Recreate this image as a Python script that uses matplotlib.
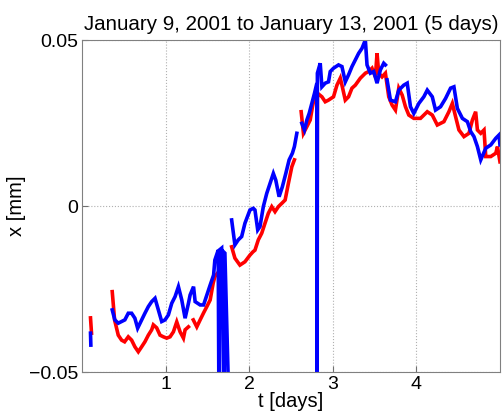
import numpy as np
import matplotlib
matplotlib.use("Agg")
import matplotlib.pyplot as plt

plt.rcParams['font.family'] = ['Liberation Sans', 'DejaVu Sans']

nan = np.nan

# red trace (t in days, x in mm); nan = gap in record
t_red = [0.100, 0.112, nan,
         0.360, 0.388, 0.432, 0.472, 0.508, 0.552, 0.592, 0.631, 0.672, 0.712,
         0.751, 0.792, 0.832, 0.852, 0.892, 0.932, 0.972, 1.012, 1.052, 1.092,
         1.132, 1.172, 1.212, 1.232, 1.272, nan,
         1.330, 1.372, 1.412, 1.453, 1.492, 1.532, 1.568, 1.588, 1.648, 1.669, nan,
         1.789, 1.828, 1.888, 1.948, 2.008, 2.044, 2.068, 2.108, 2.149, 2.188,
         2.228, 2.269, 2.308, 2.348, 2.389, 2.429, 2.468, 2.509, 2.540, nan,
         2.621, 2.648, 2.689, 2.729, 2.756, 2.780, 2.809, 2.812, 2.815, 2.869,
         2.909, 2.948, 3.008, 3.049, 3.089, 3.109, 3.149, 3.188, 3.229, 3.269,
         3.329, 3.389, 3.429, 3.469, 3.509, 3.529, 3.549, 3.589, 3.629, 3.669,
         3.709, 3.749, 3.789, 3.830, 3.869, 3.909, 3.969, 4.049, 4.130, 4.190,
         4.250, 4.329, 4.389, 4.430, 4.469, 4.509, 4.569, 4.629, 4.670, 4.709,
         4.730, 4.770, 4.809, 4.830, 4.890, 4.950, 4.970, 5.000]
x_red = [-0.0337, -0.0383, nan,
         -0.0258, -0.0343, -0.0389, -0.0404, -0.0409, -0.0394, -0.0404, -0.0424,
         -0.0439, -0.0424, -0.0409, -0.0389, -0.0373, -0.0358, -0.0367, -0.0389,
         -0.0394, -0.0398, -0.0394, -0.0379, -0.0349, -0.0379, -0.0398, -0.0373,
         -0.0364, nan,
         -0.0343, -0.0364, -0.0343, -0.0322, -0.0303, -0.0283, -0.0232, -0.0213,
         -0.0193, -0.0187, nan,
         -0.0123, -0.0157, -0.0178, -0.0168, -0.0148, -0.0138, -0.0133, -0.0102,
         -0.0082, -0.0052, -0.0022, -0.0002, -0.0017, -0.0002, 0.0008, 0.0018,
         0.0068, 0.0118, 0.0139, nan,
         0.0284, 0.0219, 0.0239, 0.0259, 0.0299, 0.0329, 0.0355, -0.0102, 0.0340,
         0.0329, 0.0314, 0.0319, 0.0329, 0.0364, 0.0385, 0.0364, 0.0319, 0.0329,
         0.0355, 0.0364, 0.0385, 0.0400, 0.0405, 0.0415, 0.0389, 0.0460, 0.0400,
         0.0389, 0.0400, 0.0329, 0.0304, 0.0289, 0.0355, 0.0334, 0.0299, 0.0274,
         0.0264, 0.0264, 0.0284, 0.0274, 0.0244, 0.0254, 0.0284, 0.0309, 0.0269,
         0.0229, 0.0209, 0.0219, 0.0259, 0.0284, 0.0229, 0.0219, 0.0229, 0.0149,
         0.0149, 0.0159, 0.0179, 0.0133]

# blue trace; the drop-outs run down past the bottom of the axes
t_blue = [0.100, 0.104, nan,
          0.360, 0.391, 0.432, 0.472, 0.511, 0.552, 0.592, 0.631, 0.664, 0.712,
          0.751, 0.792, 0.832, 0.872, 0.912, 0.952, 0.992, 1.032, 1.072, 1.112,
          1.152, 1.192, 1.232, 1.272, 1.292, 1.333, 1.352, 1.412, 1.453, 1.492,
          1.532, 1.573, 1.588, 1.628, 1.637, 1.640, 1.669, 1.697, 1.700, 1.708,
          1.756, 1.758, nan,
          1.789, 1.828, 1.868, 1.909, 1.948, 2.008, 2.048, 2.068, 2.101, 2.128,
          2.168, 2.209, 2.248, 2.288, 2.317, 2.357, 2.396, 2.437, 2.477, 2.516,
          2.540, 2.569, nan,
          2.629, 2.660, 2.689, 2.717, 2.749, 2.780, 2.809, 2.812, 2.815, 2.849,
          2.869, 2.909, 2.948, 2.969, 3.008, 3.068, 3.109, 3.149, 3.188, 3.229,
          3.269, 3.309, 3.349, 3.389, 3.409, 3.449, 3.489, 3.529, 3.569, 3.609,
          3.629, nan,
          3.649, 3.689, 3.749, 3.789, 3.849, 3.890, 3.929, 3.969, 4.029, 4.089,
          4.130, 4.190, 4.229, 4.289, 4.349, 4.409, 4.449, 4.490, 4.550, 4.610,
          4.650, 4.689, 4.730, 4.770, 4.830, 4.890, 4.950, 4.989, 5.000]
x_blue = [-0.0383, -0.0419, nan,
          -0.0313, -0.0343, -0.0353, -0.0348, -0.0343, -0.0323, -0.0323, -0.0338,
          -0.0368, -0.0343, -0.0323, -0.0303, -0.0288, -0.0278, -0.0313, -0.0348,
          -0.0343, -0.0328, -0.0293, -0.0273, -0.0243, -0.0283, -0.0338, -0.0293,
          -0.0268, -0.0243, -0.0288, -0.0298, -0.0298, -0.0268, -0.0238, -0.0208,
          -0.0163, -0.0133, -0.0600, -0.0133, -0.0127, -0.0600, -0.0140, -0.0142,
          -0.0600, -0.0600, nan,
          -0.0042, -0.0117, -0.0102, -0.0092, -0.0052, -0.0012, -0.0007, -0.0012,
          -0.0072, -0.0062, -0.0002, 0.0038, 0.0068, 0.0098, 0.0078, 0.0028,
          0.0058, 0.0098, 0.0139, 0.0159, 0.0179, 0.0219, nan,
          0.0249, 0.0229, 0.0259, 0.0279, 0.0309, 0.0339, 0.0370, -0.0600, 0.0400,
          0.0430, 0.0359, 0.0370, 0.0374, 0.0405, 0.0415, 0.0425, 0.0420, 0.0374,
          0.0395, 0.0420, 0.0440, 0.0460, 0.0475, 0.0500, 0.0425, 0.0400, 0.0405,
          0.0370, 0.0410, 0.0430, 0.0425, nan,
          0.0380, 0.0319, 0.0314, 0.0349, 0.0364, 0.0370, 0.0299, 0.0279, 0.0309,
          0.0329, 0.0349, 0.0329, 0.0289, 0.0299, 0.0324, 0.0355, 0.0359, 0.0294,
          0.0264, 0.0254, 0.0224, 0.0209, 0.0179, 0.0139, 0.0174, 0.0184, 0.0204,
          0.0214, 0.0184]

fig = plt.figure(figsize=(5.04, 4.15), dpi=100)
ax = fig.add_axes([0.163, 0.1036, 0.829, 0.8])

ax.plot(t_red, x_red, color='#ff0000', lw=2.6, solid_joinstyle='miter')
ax.plot(t_blue, x_blue, color='#0000ff', lw=2.6, solid_joinstyle='miter')

ax.set_xlim(0, 5)
ax.set_ylim(-0.05, 0.05)
ax.set_xticks([1, 2, 3, 4])
ax.set_yticks([-0.05, 0, 0.05])
ax.set_yticklabels(['\u22120.05', '0', '0.05'])
ax.grid(True, color='#b0b0b0', linestyle=':', linewidth=0.8)
ax.tick_params(direction='in', length=4, labelsize=14, color='#707070', pad=3)
for s in ax.spines.values():
    s.set_color('#808080')

ax.set_xlabel('t [days]', fontsize=14.5, labelpad=-1)
ax.set_ylabel('x [mm]', fontsize=14.5, labelpad=2)
ax.set_title('January 9, 2001 to January 13, 2001 (5 days)', fontsize=14.8, pad=7)

fig.savefig('out.png', dpi=100)
